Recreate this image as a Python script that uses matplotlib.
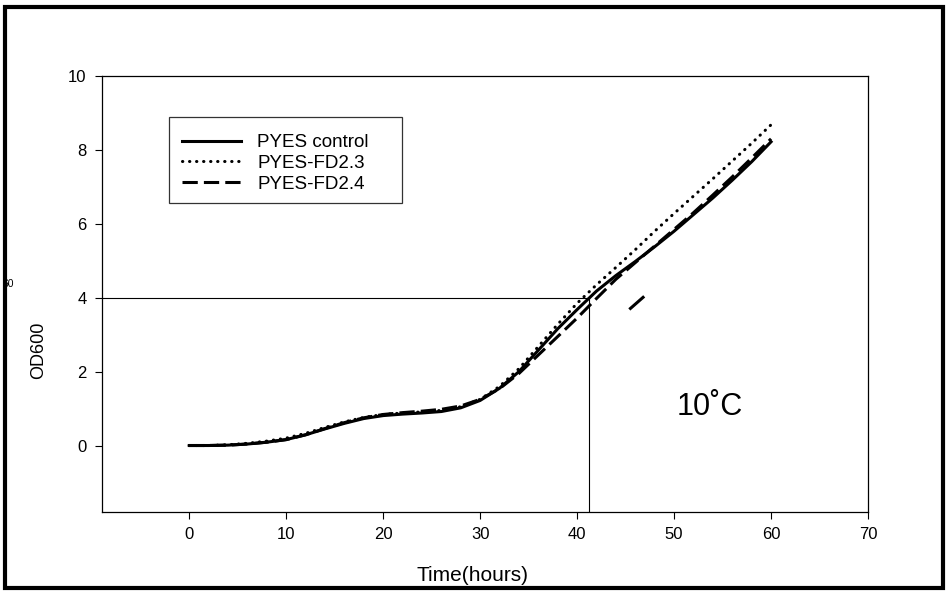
import matplotlib
matplotlib.use('Agg')
import matplotlib.pyplot as plt
from matplotlib.patches import Rectangle

plt.rcParams['font.family'] = ['Liberation Sans', 'DejaVu Sans']

# time points (hours)
hours = [0, 2, 4, 6, 8, 10, 12, 14, 16, 18, 20, 22, 24, 26, 28, 30,
         32, 34, 36, 38, 40, 42, 44, 46, 48, 50, 52, 54, 56, 58, 60]

# OD600 readings
pyes_control = [0.00, 0.00, 0.01, 0.04, 0.09, 0.16, 0.29, 0.45, 0.60, 0.73, 0.81,
                0.85, 0.88, 0.92, 1.02, 1.22, 1.55, 2.00, 2.58, 3.16, 3.68,
                4.18, 4.60, 4.98, 5.38, 5.80, 6.25, 6.70, 7.18, 7.68, 8.22]
pyes_fd23 = [0.00, 0.00, 0.02, 0.06, 0.12, 0.20, 0.33, 0.49, 0.64, 0.76, 0.84,
             0.88, 0.91, 0.95, 1.05, 1.25, 1.60, 2.08, 2.68, 3.28, 3.85,
             4.35, 4.82, 5.30, 5.80, 6.28, 6.75, 7.22, 7.70, 8.18, 8.68]
pyes_fd24 = [0.00, 0.00, 0.01, 0.04, 0.09, 0.16, 0.29, 0.46, 0.62, 0.75, 0.84,
             0.89, 0.93, 0.98, 1.07, 1.25, 1.54, 1.95, 2.45, 2.95, 3.45,
             3.98, 4.50, 4.95, 5.40, 5.85, 6.30, 6.78, 7.27, 7.78, 8.30]

# stray dash left in the original figure
stray_x = [45.5, 46.8]
stray_y = [3.71, 4.01]

# reference lines at OD 4
ref_od = 4.0
ref_time = 41.2

xticks = [0, 10, 20, 30, 40, 50, 60, 70]
yticks = [0, 2, 4, 6, 8, 10]

fig = plt.figure(figsize=(9.47, 5.92), dpi=100)
ax = fig.add_axes([0.1077, 0.1351, 0.8089, 0.7365])

lw = 2.2
ax.plot(hours, pyes_control, color='black', lw=lw, ls='-', label='PYES control')
ax.plot(hours, pyes_fd23, color='black', lw=lw, ls=(0, (0.1, 2.2)),
        dash_capstyle='round', label='PYES-FD2.3')
ax.plot(hours, pyes_fd24, color='black', lw=lw, ls=(0, (5, 2)), label='PYES-FD2.4')
ax.plot(stray_x, stray_y, color='black', lw=lw)

ax.plot([-9, ref_time], [ref_od, ref_od], color='black', lw=0.8)
ax.plot([ref_time, ref_time], [-1.8, ref_od], color='black', lw=0.8)

ax.text(53.7, 1.03, '10˚C', fontsize=22, ha='center', va='center')

ax.set_xlim(-9, 70)
ax.set_ylim(-1.8, 10)
ax.set_xticks(xticks)
ax.set_yticks(yticks)
ax.tick_params(direction='out', length=5, width=0.8, labelsize=12, pad=6)
for s in ax.spines.values():
    s.set_linewidth(0.9)

ax.set_xlabel('Time(hours)', fontsize=15)
ax.xaxis.set_label_coords(0.484, -0.124)
ax.set_ylabel('OD600', fontsize=13)
ax.yaxis.set_label_coords(-0.072, 0.37)

leg = ax.legend(loc='upper left', bbox_to_anchor=(0.1922, 0.7736),
                bbox_transform=fig.transFigure, fontsize=13.5,
                frameon=False, handlelength=3.15, handletextpad=0.85,
                labelspacing=0.2, borderpad=0, borderaxespad=0)
fig.patches.append(Rectangle((0.1785, 0.6571), 0.246, 0.1453,
                             transform=fig.transFigure, fill=False,
                             lw=0.9, edgecolor='#333333', zorder=4))

fig.text(0.009, 0.52, '60', fontsize=7.5, ha='center', va='center', zorder=1)
fig.patches.append(Rectangle((0.0053, 0.0068), 0.9905, 0.9815,
                             transform=fig.transFigure, fill=False,
                             lw=3, color='black', zorder=5))

fig.savefig('out.png', dpi=100)
